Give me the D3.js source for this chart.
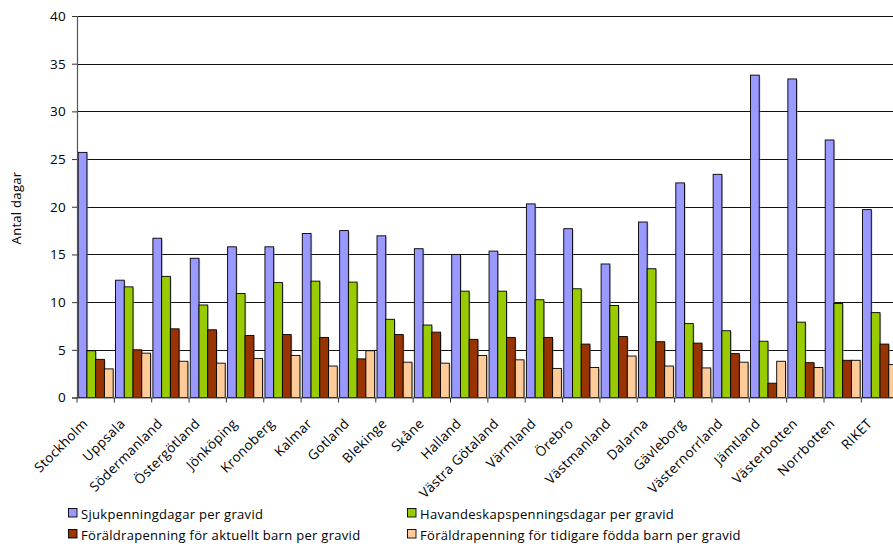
<!DOCTYPE html>
<html>
<head>
<meta charset="utf-8">
<script src="https://cdn.jsdelivr.net/npm/d3@7"></script>
<style>
  html, body { margin: 0; padding: 0; background: #fff; }
  svg { display: block; font-family: "Open Sans", "DejaVu Sans", sans-serif; }
</style>
</head>
<body>
<svg id="chart" width="893" height="544"></svg>
<script>
// Län (counties) and the national total
const categories = ["Stockholm", "Uppsala", "Södermanland", "Östergötland", "Jönköping", "Kronoberg",
  "Kalmar", "Gotland", "Blekinge", "Skåne", "Halland", "Västra Götaland", "Värmland", "Örebro",
  "Västmanland", "Dalarna", "Gävleborg", "Västernorrland", "Jämtland", "Västerbotten", "Norrbotten", "RIKET"];

// Days per pregnant woman
const sjukpenning = [25.7, 12.3, 16.7, 14.6, 15.8, 15.8, 17.2, 17.5, 16.95, 15.6, 15.0, 15.35, 20.3, 17.7,
  14.0, 18.4, 22.5, 23.4, 33.8, 33.4, 27.0, 19.7];
const havandeskap = [4.9, 11.6, 12.7, 9.7, 10.9, 12.05, 12.2, 12.1, 8.2, 7.6, 11.15, 11.15, 10.25, 11.4,
  9.65, 13.5, 7.75, 7.0, 5.9, 7.9, 9.85, 8.9];
const aktuelltBarn = [4.0, 5.0, 7.2, 7.1, 6.5, 6.6, 6.3, 4.05, 6.6, 6.85, 6.1, 6.3, 6.3, 5.6,
  6.4, 5.85, 5.7, 4.6, 1.5, 3.65, 3.9, 5.6];
const tidigareBarn = [3.0, 4.65, 3.8, 3.6, 4.1, 4.4, 3.3, 4.9, 3.7, 3.6, 4.4, 3.95, 3.05, 3.15,
  4.35, 3.3, 3.1, 3.7, 3.8, 3.15, 3.9, 3.45];

const yTicks = [0, 5, 10, 15, 20, 25, 30, 35, 40];

const seriesNames = ["Sjukpenningdagar per gravid", "Havandeskapspenningsdagar per gravid",
  "Föräldrapenning för aktuellt barn per gravid", "Föräldrapenning för tidigare födda barn per gravid"];
const seriesValues = [sjukpenning, havandeskap, aktuelltBarn, tidigareBarn];
const colors = ["#9999FF", "#99CC00", "#993300", "#FFCC99"];

const svg = d3.select("#chart");
const plotLeft = 77, plotTop = 16, plotBottom = 397.5;
const groupW = 37.35;
const plotRight = plotLeft + groupW * categories.length;

const x = d3.scaleBand().domain(categories).range([plotLeft, plotRight]).paddingInner(0).paddingOuter(0);
const xs = d3.scaleBand().domain(d3.range(seriesNames.length)).range([0, x.bandwidth()])
  .paddingInner(0).paddingOuter(0.1375);
const y = d3.scaleLinear().domain([0, 40]).range([plotBottom, plotTop]);

// Horizontal gridlines
svg.append("g").selectAll("line").data(yTicks.filter(d => d > 0)).join("line")
  .attr("x1", plotLeft).attr("x2", plotRight)
  .attr("y1", d => Math.round(y(d)) + 0.5).attr("y2", d => Math.round(y(d)) + 0.5)
  .attr("stroke", "#111").attr("stroke-width", 1);

// Bars, with a faint drop shadow
const groups = svg.append("g").selectAll("g").data(categories).join("g")
  .attr("transform", d => `translate(${x(d)},0)`);

groups.each(function(cat, ci) {
  const g = d3.select(this);
  seriesValues.forEach((vals, si) => {
    const v = vals[ci];
    g.append("rect")
      .attr("x", xs(si) + 1.2).attr("y", y(v) + 1.2)
      .attr("width", xs.bandwidth()).attr("height", plotBottom - y(v) - 1.2)
      .attr("fill", "#999").attr("opacity", 0.55);
  });
  seriesValues.forEach((vals, si) => {
    const v = vals[ci];
    g.append("rect")
      .attr("x", xs(si)).attr("y", y(v))
      .attr("width", xs.bandwidth()).attr("height", plotBottom - y(v))
      .attr("fill", colors[si]).attr("stroke", "#000").attr("stroke-width", 0.9);
  });
});

// Y axis
const yAxis = d3.axisLeft(y).tickValues(yTicks).tickSize(5).tickPadding(6);
const ya = svg.append("g").attr("transform", `translate(${plotLeft},0)`).call(yAxis);
ya.select(".domain").attr("stroke", "#555").attr("stroke-width", 1.2);
ya.selectAll(".tick line").attr("stroke", "#333");
ya.selectAll(".tick text").attr("font-size", 13.5).attr("fill", "#000")
  .attr("letter-spacing", 0.3)
  .attr("font-family", "'Open Sans', 'DejaVu Sans', sans-serif");

// X axis with rotated category labels
const xAxis = d3.axisBottom(x).tickSize(0).tickFormat("");
const xa = svg.append("g").attr("transform", `translate(0,${plotBottom})`).call(xAxis);
xa.select(".domain").attr("stroke", "#555").attr("stroke-width", 1.2);
xa.selectAll(".boundary").data(d3.range(categories.length + 1)).join("line")
  .attr("class", "boundary")
  .attr("x1", i => plotLeft + i * groupW).attr("x2", i => plotLeft + i * groupW)
  .attr("y1", 0).attr("y2", 5).attr("stroke", "#333");

svg.append("g").selectAll("text").data(categories).join("text")
  .attr("transform", d => `translate(${x(d) + x.bandwidth() / 2 - 7},${plotBottom + 27}) rotate(-45)`)
  .attr("text-anchor", "end")
  .attr("font-size", 13.5)
  .attr("letter-spacing", 0.3)
  .attr("fill", "#000")
  .text(d => d);

// Y axis title
svg.append("text")
  .attr("transform", "translate(21,208) rotate(-90)")
  .attr("text-anchor", "middle")
  .attr("font-size", 13)
  .attr("letter-spacing", 0.3)
  .attr("fill", "#000")
  .text("Antal dagar");

// Legend
const legendPos = [[68, 514], [407, 514], [68, 535], [407, 535]];
const lg = svg.append("g").selectAll("g").data(seriesNames).join("g")
  .attr("transform", (d, i) => `translate(${legendPos[i][0]},${legendPos[i][1]})`);
lg.append("rect").attr("x", 0.5).attr("y", -5.5).attr("width", 8.5).attr("height", 8.5)
  .attr("fill", (d, i) => colors[i]).attr("stroke", "#000").attr("stroke-width", 0.9);
lg.append("text").attr("x", 13).attr("y", 4.5).attr("font-size", 13).attr("letter-spacing", 0.3)
  .attr("fill", "#000").text(d => d);
</script>
</body>
</html>
